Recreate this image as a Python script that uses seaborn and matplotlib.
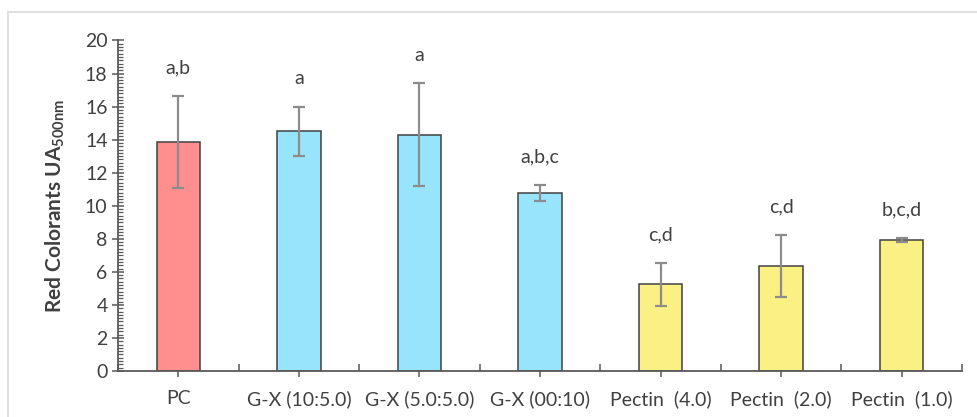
import matplotlib
matplotlib.use("Agg")
import matplotlib.pyplot as plt
import seaborn as sns
import pandas as pd
import numpy as np
from matplotlib.patches import Rectangle
from matplotlib.ticker import MultipleLocator, FixedLocator

categories = ["PC", "G-X (10:5.0)", "G-X (5.0:5.0)", "G-X (00:10)",
              "Pectin  (4.0)", "Pectin  (2.0)", "Pectin  (1.0)"]
means = [13.85, 14.5, 14.3, 10.77, 5.24, 6.36, 7.93]
errors = [2.8, 1.5, 3.1, 0.5, 1.3, 1.9, 0.1]
letters = ["a,b", "a", "a", "a,b,c", "c,d", "c,d", "b,c,d"]
groups = ["PC", "GX", "GX", "GX", "Pectin", "Pectin", "Pectin"]
palette = {"PC": "#FF8F8F", "GX": "#99E4FD", "Pectin": "#FAF083"}

sns.set_theme(style="white")
plt.rcParams["font.family"] = ["Lato", "DejaVu Sans"]
plt.rcParams["mathtext.fontset"] = "custom"
plt.rcParams["mathtext.rm"] = "Lato:bold"
plt.rcParams["mathtext.default"] = "regular"

txt = "#404040"
df = pd.DataFrame({"cat": categories, "val": means, "grp": groups})

fig = plt.figure(figsize=(9.77, 4.17), dpi=100)
ax = fig.add_axes([118/977, 46/417, (962-118)/977, (371-40.5)/417])

sns.barplot(data=df, x="cat", y="val", hue="grp", palette=palette,
            order=categories, dodge=False, width=0.36, legend=False,
            saturation=1, edgecolor="#404040", linewidth=1.1, ax=ax)

x = np.arange(len(categories))
ax.errorbar(x, means, yerr=errors, fmt="none", ecolor="#8C8C8C",
            elinewidth=1.6, capsize=4, capthick=1.6, zorder=5)

for xi, m, e, lab in zip(x, means, errors, letters):
    ax.text(xi, m + e + 1.7, lab, ha="center", va="center",
            fontsize=14, color=txt)

ax.set_xlim(-0.5, 6.5)
ax.set_ylim(0, 20)
ax.yaxis.set_major_locator(MultipleLocator(2))
ax.yaxis.set_minor_locator(MultipleLocator(0.2))
ax.xaxis.set_minor_locator(FixedLocator(np.arange(-0.5, 7.0, 1.0)))

for s in ["top", "right"]:
    ax.spines[s].set_visible(False)
for s in ["left", "bottom"]:
    ax.spines[s].set_color("#595959")
    ax.spines[s].set_linewidth(1.3)

ax.tick_params(axis="y", which="major", direction="inout", length=9,
               width=1.1, color="#595959", labelsize=14, labelcolor=txt,
               pad=3, left=True)
ax.tick_params(axis="y", which="minor", direction="in", length=3.5,
               width=0.9, color="#595959", left=True)
ax.tick_params(axis="x", which="major", direction="out", length=4,
               width=1.1, color="#595959", labelsize=14, labelcolor=txt,
               pad=10, bottom=True)
ax.tick_params(axis="x", which="minor", direction="in", length=5,
               width=1.1, color="#595959", bottom=True)

ax.set_xlabel("")
ax.set_ylabel(r"Red Colorants UA$_{500nm}$", fontsize=15, fontweight="bold",
              color=txt)
ax.yaxis.set_label_coords(-0.06, 0.5)

fig.patches.append(Rectangle((8/977, -0.05), 1.2, (417-11.5)/417 + 0.05,
                             transform=fig.transFigure, fill=False,
                             edgecolor="#D9D9D9", linewidth=1.2))

fig.savefig("out.png", dpi=100)
